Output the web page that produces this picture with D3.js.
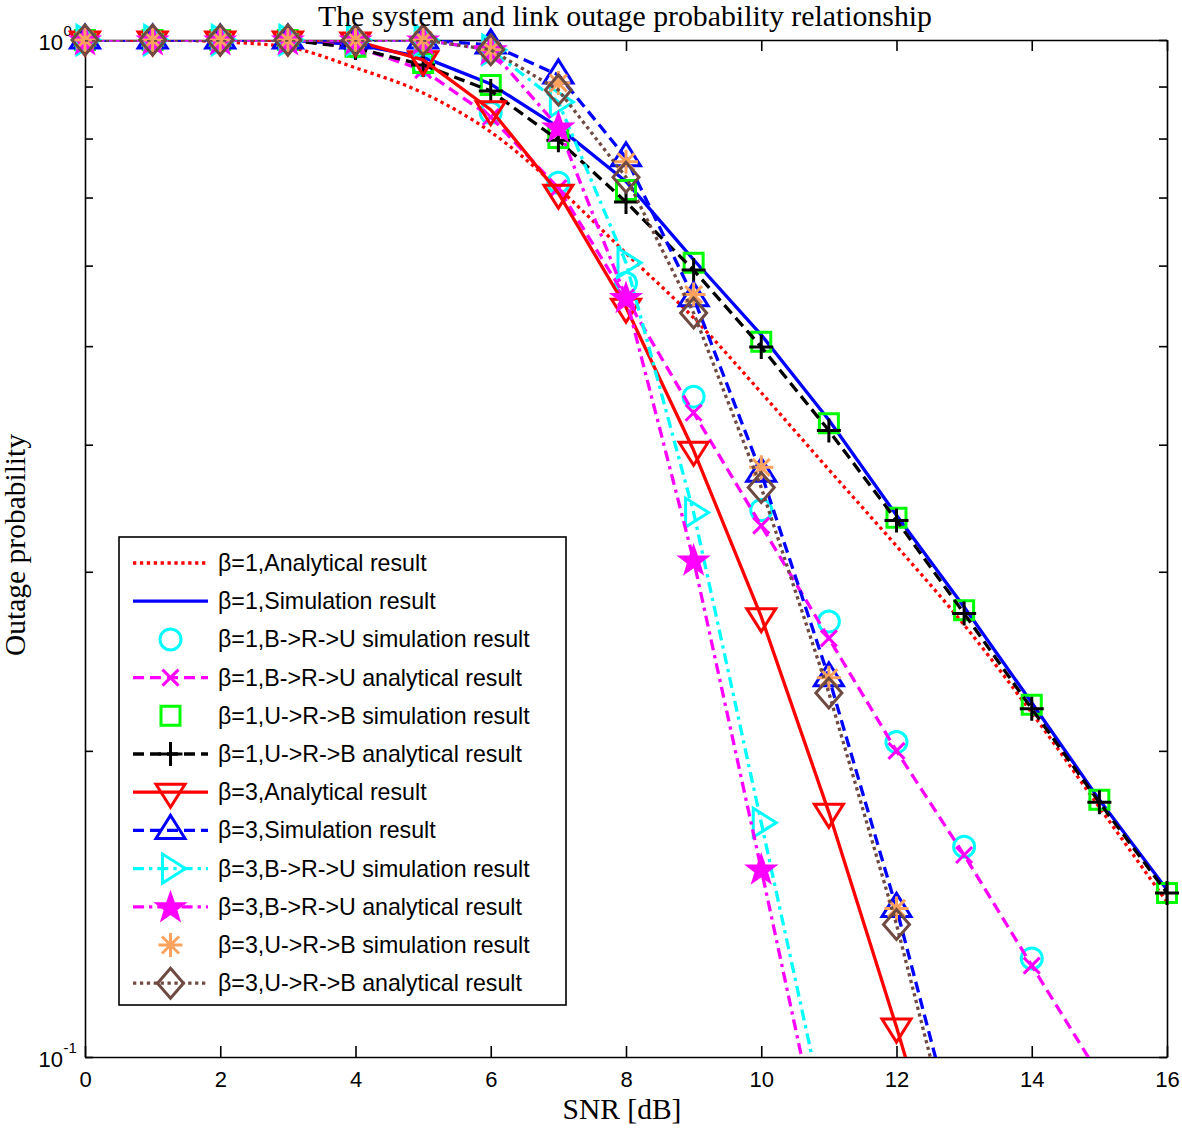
<!DOCTYPE html>
<html><head><meta charset="utf-8">
<script src="https://cdn.jsdelivr.net/npm/d3@7"></script>
<style>body{margin:0;background:#fff} svg{display:block}</style>
</head><body>
<svg id="chart" width="1182" height="1128"></svg>
<script>
// ---------- data ----------
const snr = [0,1,2,3,4,5,6,7,8,9,10,11,12,13,14,15,16];
const xTicks = [0,2,4,6,8,10,12,14,16];
const yMinorTicks = [0.1,0.2,0.3,0.4,0.5,0.6,0.7,0.8,0.9,1];
const yTickLabels = [{v:1, base:"10", exp:"0"}, {v:0.1, base:"10", exp:"-1"}];

const b1Analytical = [1,1,0.996,0.984,0.939,0.887,0.812,0.715,0.617,0.533,0.450,0.378,0.318,0.266,0.218,0.176,0.142];
const b1Simulation = [1,1,1,1,0.99,0.962,0.905,0.821,0.726,0.608,0.513,0.423,0.341,0.277,0.223,0.179,0.146];
const b1BRUsim     = [1,1,1,1,0.985,0.945,0.848,0.724,0.577,0.446,0.345,0.268,0.204,0.161,0.125,0.097,0.075];
const b1BRUana     = [1,1,1,1,0.985,0.934,0.840,0.715,0.558,0.430,0.333,0.258,0.200,0.158,0.123,0.096,0.076];
const b1URBsim     = [1,1,1,1,0.985,0.949,0.903,0.801,0.712,0.604,0.505,0.420,0.339,0.275,0.222,0.179,0.145];
const b1URBana     = [1,1,1,1,0.982,0.945,0.891,0.797,0.693,0.594,0.499,0.413,0.337,0.273,0.220,0.178,0.145];
const b3Analytical = [1,1,1,1,0.998,0.956,0.854,0.707,0.546,0.395,0.271,0.174,0.107,0.064,null,null,null];
const b3Simulation = [1,1,1,1,1,1,0.989,0.924,0.766,0.558,0.375,0.236,0.140,0.078,null,null,null];
const b3BRUsim     = [1,1,1,1,1,1,0.978,0.869,0.604,0.343,0.170,0.084,null,null,null,null,null];
const b3BRUana     = [1,1,1,1,1,1,0.978,0.821,0.558,0.308,0.153,0.075,null,null,null,null,null];
const b3URBsim     = [1,1,1,1,1,1,0.978,0.907,0.759,0.562,0.380,0.236,0.140,0.078,null,null,null];
const b3URBana     = [1,1,1,1,1,1,0.978,0.893,0.733,0.539,0.363,0.228,0.135,0.074,null,null,null];

const seriesLabels = [
  "β=1,Analytical result","β=1,Simulation result","β=1,B->R->U simulation result",
  "β=1,B->R->U analytical result","β=1,U->R->B simulation result","β=1,U->R->B analytical result",
  "β=3,Analytical result","β=3,Simulation result","β=3,B->R->U simulation result",
  "β=3,B->R->U analytical result","β=3,U->R->B simulation result","β=3,U->R->B analytical result"
];
const seriesData = [b1Analytical,b1Simulation,b1BRUsim,b1BRUana,b1URBsim,b1URBana,
                    b3Analytical,b3Simulation,b3BRUsim,b3BRUana,b3URBsim,b3URBana];

// ---------- styles ----------
const DOT="3.3,3.6", DASH="11,6", DASHDOT="11,5,3.3,5";
const styles = [
  {color:"#ff0000", dash:DOT,  line:true,  marker:null,  smooth:true},
  {color:"#0000ff", dash:null, line:true,  marker:null},
  {color:"#00ffff", dash:null, line:false, marker:"circle"},
  {color:"#ff00ff", dash:DASH, line:true,  marker:"x"},
  {color:"#00ff00", dash:null, line:false, marker:"square"},
  {color:"#000000", dash:DASH, line:true,  marker:"plus"},
  {color:"#ff0000", dash:null, line:true,  marker:"tdown"},
  {color:"#0000ff", dash:DASH, line:true,  marker:"tup"},
  {color:"#00ffff", dash:DASHDOT, line:true, marker:"tright"},
  {color:"#ff00ff", dash:DASHDOT, line:true, marker:"star", fill:true},
  {color:"#fba35e", dash:null, line:false, marker:"asterisk"},
  {color:"#6e4a42", dash:DOT,  line:true,  marker:"diamond"}
];
const LW = 3.3;

function markerPath(type){
  const p = d3.path();
  switch(type){
    case "circle": p.moveTo(10.5,0); p.arc(0,0,10.5,0,2*Math.PI); p.closePath(); break;
    case "x": p.moveTo(-8,-8);p.lineTo(8,8);p.moveTo(-8,8);p.lineTo(8,-8); break;
    case "square": p.rect(-9.5,-9.5,19,19); break;
    case "plus": p.moveTo(-12,0);p.lineTo(12,0);p.moveTo(0,-12);p.lineTo(0,12); break;
    case "tdown": p.moveTo(-14.5,-8);p.lineTo(14.5,-8);p.lineTo(0,15);p.closePath(); break;
    case "tup": p.moveTo(-14.5,8);p.lineTo(14.5,8);p.lineTo(0,-15);p.closePath(); break;
    case "tright": p.moveTo(-8,-14.5);p.lineTo(-8,14.5);p.lineTo(15,0);p.closePath(); break;
    case "star": {
      for(let i=0;i<10;i++){
        const r = i%2===0?13.5:5.4, a = -Math.PI/2 + i*Math.PI/5;
        const px=r*Math.cos(a), py=r*Math.sin(a)+1;
        if(i===0)p.moveTo(px,py); else p.lineTo(px,py);
      }
      p.closePath(); break;
    }
    case "asterisk": p.moveTo(-12,0);p.lineTo(12,0);p.moveTo(0,-12);p.lineTo(0,12);
      p.moveTo(-8.5,-8.5);p.lineTo(8.5,8.5);p.moveTo(-8.5,8.5);p.lineTo(8.5,-8.5); break;
    case "diamond": p.moveTo(0,-15);p.lineTo(13,0);p.lineTo(0,15);p.lineTo(-13,0);p.closePath(); break;
  }
  return p.toString();
}

// ---------- layout ----------
const svg = d3.select("#chart");
const L=85, R=1167, T=40, B=1057;
const x = d3.scaleLinear().domain([0,16]).range([L,R]);
const y = d3.scaleLog().domain([0.1,1]).range([B,T]);
const sansFont = "'Liberation Sans', Arial, Helvetica, sans-serif";
const serifFont = "'Liberation Serif', 'Times New Roman', serif";

svg.append("defs").append("clipPath").attr("id","plotclip")
  .append("rect").attr("x",L).attr("y",T).attr("width",R-L).attr("height",B-T);

// axes
function styleAxis(g){
  g.selectAll("path.domain").attr("stroke","#000").attr("stroke-width",1.6);
  g.selectAll(".tick line").attr("stroke","#000").attr("stroke-width",1.6);
}
const gx = svg.append("g").attr("transform",`translate(0,${B})`)
  .call(d3.axisBottom(x).tickValues(xTicks).tickSize(-11).tickSizeOuter(0).tickPadding(14).tickFormat(d3.format("d")));
gx.selectAll("text").attr("font-family",sansFont).attr("font-size",22).attr("fill","#000");
styleAxis(gx);
const gxt = svg.append("g").attr("transform",`translate(0,${T})`)
  .call(d3.axisTop(x).tickValues(xTicks).tickSize(-11).tickSizeOuter(0).tickFormat(""));
styleAxis(gxt);
const gy = svg.append("g").attr("transform",`translate(${L},0)`)
  .call(d3.axisLeft(y).tickValues(yMinorTicks).tickSize(-8).tickSizeOuter(0).tickFormat(""));
styleAxis(gy);
const gyr = svg.append("g").attr("transform",`translate(${R},0)`)
  .call(d3.axisRight(y).tickValues(yMinorTicks).tickSize(-8).tickSizeOuter(0).tickFormat(""));
styleAxis(gyr);

// y tick labels with superscripts
yTickLabels.forEach(t=>{
  const g = svg.append("g").attr("font-family",sansFont).attr("fill","#000");
  g.append("text").attr("x",63).attr("y",y(t.v)+10).attr("text-anchor","end")
    .attr("font-size",22).text(t.base);
  g.append("text").attr("x",63.5).attr("y",y(t.v)-4).attr("text-anchor","start")
    .attr("font-size",15).text(t.exp);
});

// data series
seriesData.forEach((data,i)=>{
  const st = styles[i];
  const pts = snr.map((s,k)=>({x:s,v:data[k]})).filter(d=>d.v!==null);
  const g = svg.append("g");
  if(st.line){
    const line = d3.line().x(d=>x(d.x)).y(d=>y(d.v))
      .curve(st.smooth?d3.curveMonotoneX:d3.curveLinear);
    g.append("path").attr("clip-path","url(#plotclip)")
      .attr("d",line(pts)).attr("fill","none").attr("stroke",st.color)
      .attr("stroke-width",LW).attr("stroke-dasharray",st.dash)
      .attr("stroke-linejoin","round");
  }
  if(st.marker){
    g.selectAll("path.mk").data(pts.filter(d=>d.v>=0.1 && d.v<=1)).join("path")
      .attr("class","mk")
      .attr("transform",d=>`translate(${x(d.x)},${y(d.v)})`)
      .attr("d",markerPath(st.marker))
      .attr("fill",st.fill?st.color:"none").attr("stroke",st.color)
      .attr("stroke-width",3).attr("stroke-linejoin","miter");
  }
});

// title & labels
svg.append("text").attr("x",625).attr("y",26).attr("text-anchor","middle")
  .attr("font-family",serifFont).attr("font-size",29.8).attr("fill","#000")
  .text("The system and link outage probability relationship");
svg.append("text").attr("x",622).attr("y",1119).attr("text-anchor","middle")
  .attr("font-family",serifFont).attr("font-size",29.5).attr("fill","#000")
  .text("SNR [dB]");
svg.append("text").attr("transform","translate(25,545) rotate(-90)").attr("text-anchor","middle")
  .attr("font-family",serifFont).attr("font-size",29.5).attr("fill","#000")
  .text("Outage probability");

// legend
const lg = svg.append("g");
lg.append("rect").attr("x",119).attr("y",537).attr("width",447).attr("height",468)
  .attr("fill","#fff").attr("stroke","#000").attr("stroke-width",1.6);
seriesLabels.forEach((lab,i)=>{
  const st = styles[i];
  const cy = 563 + i*38.2;
  if(st.line){
    lg.append("line").attr("x1",133).attr("x2",208).attr("y1",cy).attr("y2",cy)
      .attr("stroke",st.color).attr("stroke-width",LW).attr("stroke-dasharray",st.dash);
  }
  if(st.marker){
    lg.append("path").attr("transform",`translate(170.5,${cy})`).attr("d",markerPath(st.marker))
      .attr("fill",st.fill?st.color:"none").attr("stroke",st.color).attr("stroke-width",3);
  }
  lg.append("text").attr("x",218).attr("y",cy+8).attr("font-family",sansFont)
    .attr("font-size",23.2).attr("fill","#000").text(lab);
});
</script>
</body></html>
